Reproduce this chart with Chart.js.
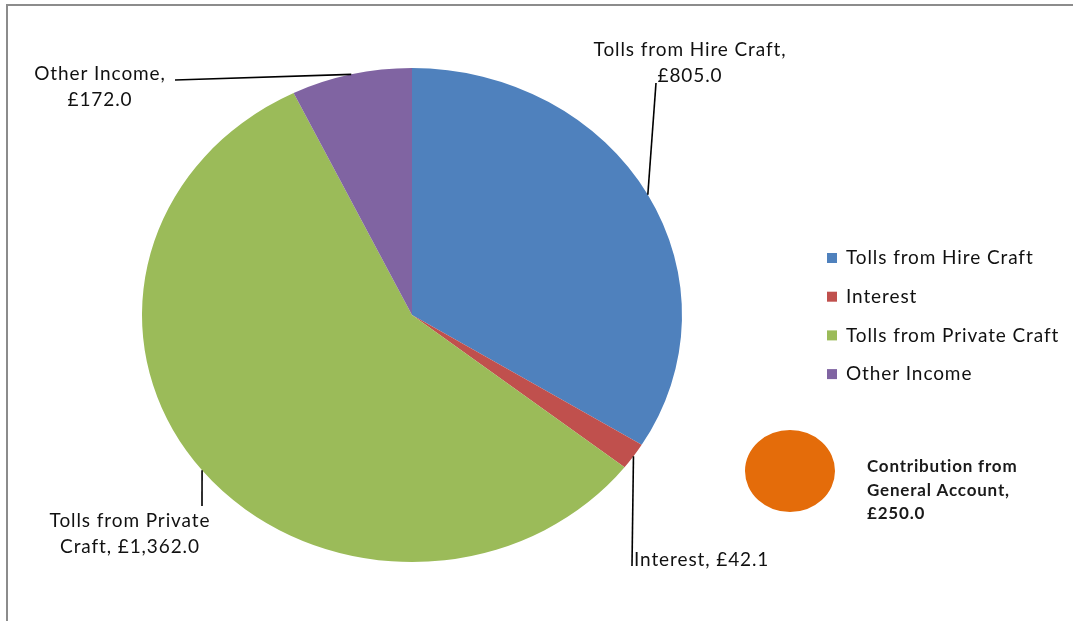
<!DOCTYPE html>
<html>
<head>
<meta charset="utf-8">
<script src="https://cdn.jsdelivr.net/npm/chart.js@4.4.0/dist/chart.umd.min.js"></script>
<style>
  html, body { margin: 0; padding: 0; background: #fff; }
  #wrap { position: relative; width: 1073px; height: 621px; overflow: hidden; }
  #frame {
    position: absolute; left: 6px; top: 4px; width: 1100px; height: 700px;
    border-top: 2px solid #8c8c8c; border-left: 2px solid #8c8c8c;
  }
  canvas { position: absolute; }
  #incomeChart { left: 0; top: 0; }
  #extraChart { left: 740px; top: 420px; }
</style>
</head>
<body>
<div id="wrap">
  <div id="frame"></div>
  <canvas id="incomeChart" width="1073" height="621"></canvas>
  <canvas id="extraChart" width="320" height="110"></canvas>
</div>
<script>
// income breakdown (£)
const categories = ['Tolls from Hire Craft', 'Interest', 'Tolls from Private Craft', 'Other Income'];
const amounts = [805.0, 42.1, 1362.0, 172.0];
const sliceColors = ['#4F81BD', '#C0504D', '#9BBB59', '#8064A2'];

const extraCategories = ['Contribution from General Account'];
const extraAmounts = [250.0];
const extraColors = ['#E46C0A'];

const FONT = '19px Lato, "Liberation Sans", sans-serif';
const TEXT = '#111';

function money(v) {
  return '£' + v.toLocaleString('en-GB', { minimumFractionDigits: 1, maximumFractionDigits: 1 });
}

// pie is drawn a little wider than tall
const stretch = {
  id: 'stretch',
  beforeDatasetsDraw(chart, args, opts) {
    const arc = chart.getDatasetMeta(0).data[0];
    const ctx = chart.ctx;
    ctx.save();
    ctx.translate(arc.x, arc.y);
    ctx.scale(opts.sx, 1);
    ctx.translate(-arc.x, -arc.y);
  },
  afterDatasetsDraw(chart) {
    chart.ctx.restore();
  }
};

// point on the (stretched) rim at the middle of a slice
function rimPoint(chart, i, sx) {
  const arc = chart.getDatasetMeta(0).data[i];
  const mid = (arc.startAngle + arc.endAngle) / 2;
  return {
    x: arc.x + Math.cos(mid) * arc.outerRadius * sx,
    y: arc.y + Math.sin(mid) * arc.outerRadius
  };
}

// label blocks: lines, anchor, alignment, and where the leader line ends
const labelSpots = [
  { lines: (c, v) => [c + ',', money(v)], x: 690, y: 50, align: 'center', end: { x: 656, y: 83 } },
  { lines: (c, v) => [c + ', ' + money(v)], x: 634, y: 560, align: 'left', end: { x: 632, y: 566 } },
  { lines: (c, v) => ['Tolls from Private', 'Craft, ' + money(v)], x: 130, y: 521, align: 'center', end: { x: 202, y: 506 } },
  { lines: (c, v) => [c + ',', money(v)], x: 100, y: 74, align: 'center', end: { x: 175, y: 80 } }
];

const sliceLabels = {
  id: 'sliceLabels',
  afterDraw(chart, args, opts) {
    const ctx = chart.ctx;
    ctx.save();
    ctx.font = FONT;
    ctx.letterSpacing = '0.9px';
    ctx.fillStyle = TEXT;
    ctx.textBaseline = 'middle';
    categories.forEach((cat, i) => {
      const spot = labelSpots[i];
      const p = rimPoint(chart, i, opts.sx);
      ctx.beginPath();
      ctx.moveTo(p.x, p.y);
      ctx.lineTo(spot.end.x, spot.end.y);
      ctx.strokeStyle = '#000';
      ctx.lineWidth = 1.6;
      ctx.stroke();
      ctx.textAlign = spot.align;
      spot.lines(cat, amounts[i]).forEach((ln, k) => {
        ctx.fillText(ln, spot.x, spot.y + k * 26);
      });
    });

    // legend
    ctx.textAlign = 'left';
    categories.forEach((cat, i) => {
      const y = 258 + i * 38.7;
      ctx.fillStyle = sliceColors[i];
      ctx.fillRect(827, y - 5, 10, 10);
      ctx.fillStyle = TEXT;
      ctx.fillText(cat, 846, y);
    });
    ctx.restore();
  }
};

new Chart(document.getElementById('incomeChart'), {
  type: 'pie',
  data: {
    labels: categories,
    datasets: [{
      data: amounts,
      backgroundColor: sliceColors,
      borderWidth: 0,
      hoverOffset: 0,
      radius: 247,
      clip: false
    }]
  },
  options: {
    responsive: false,
    animation: false,
    events: [],
    layout: { autoPadding: false, padding: { left: 165, right: 414, top: 68, bottom: 59 } },
    plugins: {
      legend: { display: false },
      tooltip: { enabled: false },
      stretch: { sx: 270 / 247 },
      sliceLabels: { sx: 270 / 247 }
    }
  },
  plugins: [stretch, sliceLabels]
});

const extraLabel = {
  id: 'extraLabel',
  afterDraw(chart) {
    const ctx = chart.ctx;
    ctx.save();
    ctx.font = 'bold 17px Lato, "Liberation Sans", sans-serif';
    ctx.letterSpacing = '0.8px';
    ctx.fillStyle = '#1a1a1a';
    ctx.textBaseline = 'middle';
    ctx.textAlign = 'left';
    const lines = ['Contribution from', 'General Account,', money(extraAmounts[0])];
    lines.forEach((ln, k) => ctx.fillText(ln, 127, 47 + k * 23.5));
    ctx.restore();
  }
};

new Chart(document.getElementById('extraChart'), {
  type: 'pie',
  data: {
    labels: extraCategories,
    datasets: [{
      data: extraAmounts,
      backgroundColor: extraColors,
      borderWidth: 0,
      hoverOffset: 0,
      radius: 41,
      clip: false
    }]
  },
  options: {
    responsive: false,
    animation: false,
    events: [],
    layout: { autoPadding: false, padding: { left: 9, right: 229, top: 10, bottom: 18 } },
    plugins: {
      legend: { display: false },
      tooltip: { enabled: false },
      stretch: { sx: 45 / 41 }
    }
  },
  plugins: [stretch, extraLabel]
});
</script>
</body>
</html>
